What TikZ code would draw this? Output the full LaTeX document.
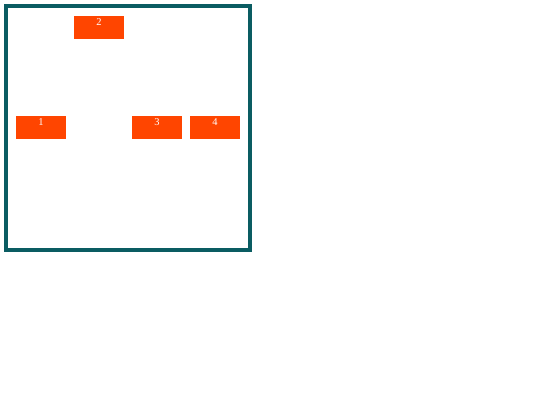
\documentclass[tikz,border=0pt]{standalone}
\usepackage{fontspec}
\setmainfont{Liberation Serif}
\definecolor{frameteal}{HTML}{0A5C62}
\definecolor{boxred}{HTML}{FF4500}
\begin{document}
\begin{tikzpicture}[x=1bp,y=-1bp,
  box/.style={fill=boxred,draw=none,minimum width=49.5bp,minimum height=23bp,inner sep=0pt,anchor=north west},
  lbl/.style={text=white,font=\fontsize{10.5}{10.5}\selectfont,inner sep=0pt,anchor=center}]
\useasboundingbox (0,0) rectangle (540,405);
\draw[frameteal,line width=4bp] (6,6) rectangle (250,250);
\node[box] (b2) at (74,16) {};
\node[box] (b1) at (16,116) {};
\node[box] (b3) at (132,116) {};
\node[box] (b4) at (190,116) {};
\node[lbl] (t2) at ([yshift=-6.5bp]b2.north) {2};
\node[lbl] (t1) at ([yshift=-6.5bp]b1.north) {1};
\node[lbl] (t3) at ([yshift=-6.5bp]b3.north) {3};
\node[lbl] (t4) at ([yshift=-6.5bp]b4.north) {4};
\end{tikzpicture}
\end{document}
